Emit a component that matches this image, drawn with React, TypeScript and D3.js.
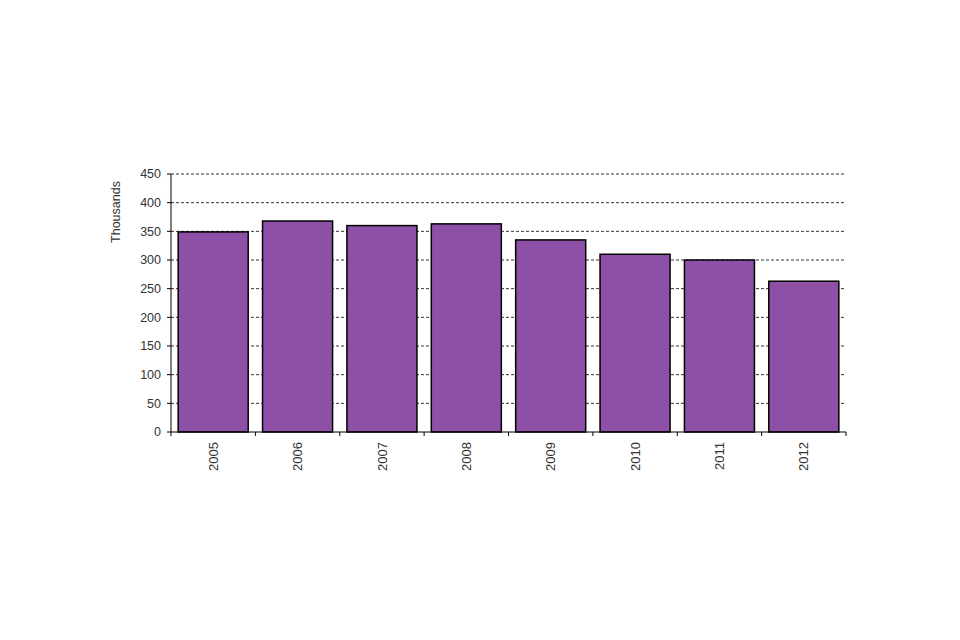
import * as d3 from "d3";

const years = ["2005", "2006", "2007", "2008", "2009", "2010", "2011", "2012"];
const values = [349, 368, 360, 363, 335, 310, 300, 263];
const yTicks = [0, 50, 100, 150, 200, 250, 300, 350, 400, 450];

const width = 960;
const height = 640;
const margin = { top: 174, right: 114, bottom: 208, left: 171 };

export default function App() {
  const innerWidth = width - margin.left - margin.right;
  const innerHeight = height - margin.top - margin.bottom;
  const x = d3.scaleBand<string>().domain(years).range([0, innerWidth]).paddingInner(0.17).paddingOuter(0.085);
  const band = d3.scaleBand<string>().domain(years).range([0, innerWidth]);
  const y = d3.scaleLinear().domain([0, 450]).range([innerHeight, 0]);
  const font = "'Liberation Sans', Arial, sans-serif";

  return (
    <svg width={width} height={height} style={{ position: "absolute", left: 0, top: 0, background: "#fff" }}>
      <g transform={`translate(${margin.left}, ${margin.top})`} fontFamily={font}>
        {yTicks.slice(1).map((tick) => (
          <line key={tick} x1={0} x2={innerWidth} y1={y(tick)} y2={y(tick)} stroke="#000" strokeWidth={0.8} strokeDasharray="3 2" />
        ))}

        {years.map((year, i) => (
          <rect
            key={year}
            x={x(year)}
            y={y(values[i])}
            width={x.bandwidth()}
            height={innerHeight - y(values[i])}
            fill="#8e50a6"
            stroke="#000"
            strokeWidth={1.5}
          />
        ))}

        <line x1={0} x2={0} y1={0} y2={innerHeight} stroke="#000" strokeWidth={1} />
        <line x1={0} x2={innerWidth} y1={innerHeight} y2={innerHeight} stroke="#000" strokeWidth={1} />

        {yTicks.map((tick) => (
          <g key={tick} transform={`translate(0, ${y(tick)})`}>
            <line x1={-4} x2={0} stroke="#000" />
            <text x={-10} dy="0.35em" textAnchor="end" fontSize={12.5} fill="#333">
              {tick}
            </text>
          </g>
        ))}

        {years.map((year) => (
          <line key={year} x1={band(year)} x2={band(year)} y1={innerHeight} y2={innerHeight + 4} stroke="#000" />
        ))}
        <line x1={innerWidth} x2={innerWidth} y1={innerHeight} y2={innerHeight + 4} stroke="#000" />

        {years.map((year) => (
          <text
            key={year}
            transform={`translate(${(band(year) ?? 0) + band.bandwidth() / 2}, ${innerHeight + 10}) rotate(-90)`}
            dy="0.35em"
            textAnchor="end"
            fontSize={13}
            fill="#333"
          >
            {year}
          </text>
        ))}

        <text transform={`translate(${-51}, ${38}) rotate(-90)`} textAnchor="middle" fontSize={12.5} fill="#333">
          Thousands
        </text>
      </g>
    </svg>
  );
}
